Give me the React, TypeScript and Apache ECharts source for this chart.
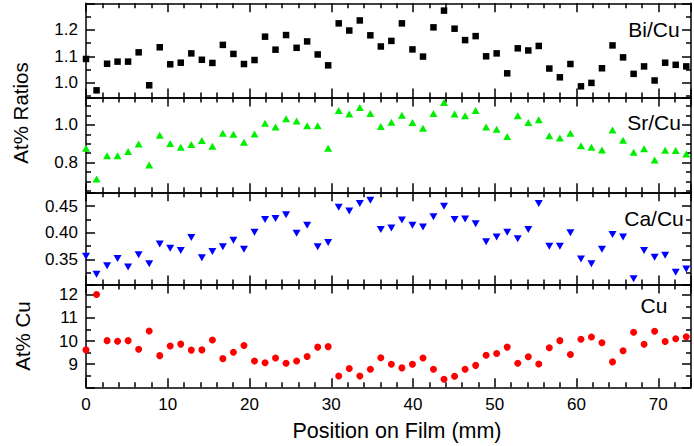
import React, { useEffect, useRef } from 'react';
import * as echarts from 'echarts';

// Position on film (mm) of each measurement
const positions = [
  0, 1.29, 2.58, 3.86, 5.15, 6.44, 7.73, 9.02, 10.3, 11.59,
  12.88, 14.17, 15.46, 16.74, 18.03, 19.32, 20.61, 21.9, 23.18, 24.47,
  25.76, 27.05, 28.34, 29.62, 30.91, 32.2, 33.49, 34.78, 36.06, 37.35,
  38.64, 39.93, 41.22, 42.5, 43.79, 45.08, 46.37, 47.66, 48.94, 50.23,
  51.52, 52.81, 54.1, 55.38, 56.67, 57.96, 59.25, 60.54, 61.82, 63.11,
  64.4, 65.69, 66.98, 68.26, 69.55, 70.84, 72.13, 73.42,
];

const biCu = [
  1.090, 0.972, 1.072, 1.080, 1.080, 1.115, 0.991, 1.134, 1.070, 1.076,
  1.111, 1.087, 1.075, 1.143, 1.109, 1.071, 1.086, 1.174, 1.125, 1.180,
  1.132, 1.156, 1.107, 1.066, 1.224, 1.197, 1.235, 1.179, 1.137, 1.158,
  1.224, 1.126, 1.099, 1.209, 1.272, 1.204, 1.161, 1.176, 1.100, 1.111,
  1.036, 1.130, 1.122, 1.139, 1.054, 1.021, 1.071, 0.987, 1.000, 1.055,
  1.141, 1.096, 1.034, 1.062, 1.009, 1.076, 1.068, 1.062,
];

const srCu = [
  0.876, 0.714, 0.836, 0.837, 0.859, 0.899, 0.788, 0.945, 0.901, 0.882,
  0.896, 0.917, 0.887, 0.956, 0.951, 0.908, 0.952, 1.009, 0.989, 1.032,
  1.021, 0.996, 0.996, 0.876, 1.076, 1.057, 1.092, 1.060, 0.991, 1.014,
  1.051, 1.012, 0.982, 1.060, 1.118, 1.058, 1.049, 1.076, 0.989, 0.977,
  0.938, 1.048, 1.012, 1.027, 0.942, 0.931, 0.956, 0.890, 0.882, 0.867,
  0.973, 0.919, 0.855, 0.874, 0.814, 0.866, 0.864, 0.846,
];

const caCu = [
  0.356, 0.322, 0.338, 0.352, 0.336, 0.359, 0.342, 0.379, 0.371, 0.367,
  0.391, 0.353, 0.365, 0.374, 0.386, 0.369, 0.401, 0.425, 0.427, 0.434,
  0.399, 0.414, 0.374, 0.382, 0.448, 0.441, 0.455, 0.461, 0.406, 0.409,
  0.424, 0.414, 0.411, 0.430, 0.450, 0.425, 0.426, 0.417, 0.383, 0.392,
  0.401, 0.389, 0.406, 0.455, 0.375, 0.375, 0.400, 0.351, 0.342, 0.369,
  0.397, 0.392, 0.314, 0.367, 0.354, 0.358, 0.326, 0.332,
];

const cu = [
  9.62, 12.02, 10.02, 9.99, 10.02, 9.65, 10.44, 9.37, 9.79, 9.87,
  9.61, 9.62, 10.05, 9.24, 9.52, 9.81, 9.14, 9.06, 9.27, 9.04,
  9.14, 9.33, 9.74, 9.76, 8.49, 8.81, 8.49, 8.78, 9.28, 9.0,
  8.84, 9.0, 9.27, 8.78, 8.35, 8.48, 8.78, 8.95, 9.39, 9.46,
  9.74, 9.04, 9.32, 9.01, 9.71, 10.02, 9.42, 10.08, 10.18, 9.93,
  9.10, 9.58, 10.38, 9.86, 10.43, 9.98, 10.10, 10.19,
];

const panelNames = ['Bi/Cu', 'Sr/Cu', 'Ca/Cu', 'Cu'];
const xTitle = 'Position on Film (mm)';
const yTitleRatios = 'At% Ratios';
const yTitleCu = 'At% Cu';

const FONT = '"Liberation Sans", Arial, sans-serif';

export default function App() {
  const ref = useRef<HTMLDivElement>(null);
  useEffect(() => {
    if (!ref.current) return;
    const chart = echarts.init(ref.current, null, { renderer: 'svg' });

    const L = 86;
    const W = 605;
    const grids = [
      { top: 3.3, height: 94.2 },
      { top: 97.5, height: 94.8 },
      { top: 192.3, height: 92.2 },
      { top: 284.5, height: 102.8 },
    ];
    const yCfg = [
      { min: 0.945, max: 1.2995, split: 4, minor: 2, dec: 1 },
      { min: 0.643, max: 1.145, split: 3, minor: 4, dec: 1 },
      { min: 0.303, max: 0.476, split: 3, minor: 2, dec: 2 },
      { min: 8.0, max: 12.45, split: 4, minor: 2, dec: 0 },
    ];
    const seriesData = [biCu, srCu, caCu, cu];
    const symbols = [
      { symbol: 'rect', size: 6.5, rotate: 0, color: '#000000' },
      { symbol: 'triangle', size: [8, 7], rotate: 0, color: '#00ee00' },
      { symbol: 'triangle', size: [8, 7], rotate: 180, color: '#0000ff' },
      { symbol: 'circle', size: 7, rotate: 0, color: '#ff0000' },
    ];

    const line = { color: '#000', width: 1.5 };
    const xAxes: any[] = [];
    const yAxes: any[] = [];
    grids.forEach((g, i) => {
      ['bottom', 'top'].forEach((pos) => {
        xAxes.push({
          gridIndex: i,
          type: 'value',
          position: pos,
          min: 0,
          max: 74,
          interval: 10,
          axisLine: { show: true, onZero: false, lineStyle: line },
          axisTick: { show: true, inside: true, length: 9, lineStyle: line },
          minorTick: { show: true, splitNumber: 5, length: 5, lineStyle: line },
          splitLine: { show: false },
          minorSplitLine: { show: false },
          axisLabel:
            i === 3 && pos === 'bottom'
              ? {
                  show: true,
                  fontSize: 17,
                  fontFamily: FONT,
                  color: '#000',
                  margin: 9,
                  showMaxLabel: false,
                }
              : { show: false },
        });
      });
      const c = yCfg[i];
      ['left', 'right'].forEach((pos) => {
        yAxes.push({
          gridIndex: i,
          type: 'value',
          position: pos,
          min: c.min,
          max: c.max,
          splitNumber: c.split,
          axisLine: { show: true, onZero: false, lineStyle: line },
          axisTick: { show: true, inside: true, length: 9, lineStyle: line },
          minorTick: { show: true, splitNumber: c.minor, length: 5, lineStyle: line },
          splitLine: { show: false },
          minorSplitLine: { show: false },
          axisLabel:
            pos === 'left'
              ? {
                  show: true,
                  fontSize: 17,
                  fontFamily: FONT,
                  color: '#000',
                  margin: 8,
                  showMinLabel: false,
                  showMaxLabel: false,
                  formatter: (v: number) => v.toFixed(c.dec),
                }
              : { show: false },
        });
      });
    });

    const series = seriesData.map((arr, i) => ({
      type: 'scatter',
      xAxisIndex: i * 2,
      yAxisIndex: i * 2,
      symbol: symbols[i].symbol,
      symbolSize: symbols[i].size,
      symbolRotate: symbols[i].rotate,
      itemStyle: { color: symbols[i].color, opacity: 1 },
      clip: true,
      data: positions.map((x, j) => [x, arr[j]]),
    }));

    const labelPos = [29, 122, 218, 305];
    const txt = (text: string, x: number, y: number, size: number, rotation = 0) => ({
      type: 'text',
      x,
      y,
      rotation,
      z: 100,
      style: {
        text,
        fontSize: size,
        fontFamily: FONT,
        fill: '#000',
        textAlign: 'center',
        textVerticalAlign: 'middle',
        align: 'center',
        verticalAlign: 'middle',
      },
    });

    chart.setOption({
      animation: false,
      backgroundColor: '#ffffff',
      grid: grids.map((g) => ({ left: L, width: W, top: g.top, height: g.height, containLabel: false })),
      xAxis: xAxes,
      yAxis: yAxes,
      series,
      graphic: [
        ...panelNames.map((n, i) => txt(n, 654, labelPos[i], 21)),
        txt(xTitle, 397, 431, 21.5),
        txt(yTitleRatios, 20, 113, 20.5, Math.PI / 2),
        txt(yTitleCu, 22, 336, 20.5, Math.PI / 2),
      ],
    });

    return () => chart.dispose();
  }, []);

  return (
    <div
      ref={ref}
      style={{ position: 'fixed', left: 0, top: 0, width: 694, height: 446, background: '#fff' }}
    />
  );
}
